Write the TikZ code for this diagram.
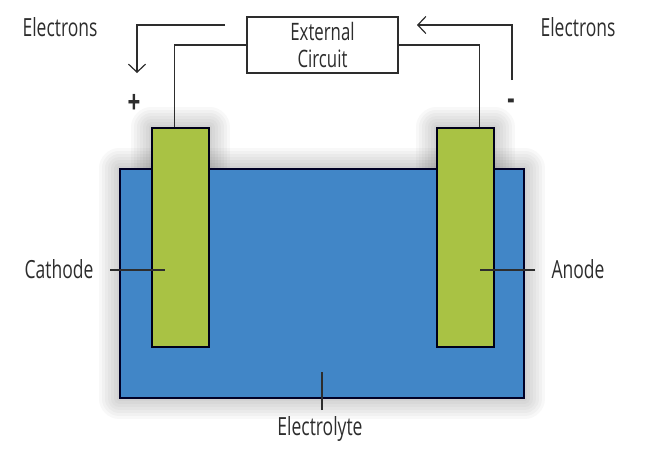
\documentclass[tikz,border=0pt]{standalone}
\usepackage{fontspec}
\setmainfont[FakeStretch=0.7]{Open Sans}
\usetikzlibrary{positioning,backgrounds,arrows.meta}

\definecolor{cellblue}{RGB}{65,134,199}
\definecolor{plategreen}{RGB}{169,194,68}
\definecolor{inkgray}{RGB}{45,45,45}

\tikzset{
	plate/.style={draw=black!90!blue, fill=plategreen, line width=1.3pt, minimum width=57pt, minimum height=219pt, inner sep=0pt},
	wire/.style={draw=inkgray, line width=1.2pt},
	flow/.style={wire, -{Straight Barb[length=8pt,width=17pt,line width=1.2pt]}},
	lbl/.style={text=inkgray, font=\fontsize{25}{28}\selectfont, inner sep=0pt},
	sign/.style={text=inkgray, font=\fontsize{32}{34}\selectfont\bfseries, inner sep=0pt},
	blur/.style={draw=black, opacity=0.028, line join=round}
}

\begin{document}
\begin{tikzpicture}[x=1pt,y=-1pt]
		\useasboundingbox (0,0) rectangle (646,458);

		\node[draw=black!85!blue, fill=cellblue, line width=1.3pt, minimum width=404pt, minimum height=229pt, inner sep=0pt] (electrolyte) at (322,283.5) {};
		\node[plate] (cathode) at (180.5,237.5) {};
		\node[plate] (anode) at (465.5,237.5) {};

		\node[draw=inkgray, fill=white, line width=1.2pt, minimum width=151pt, minimum height=56pt, align=center, lbl, font=\fontsize{24}{27}\selectfont] (circuit) at (322.5,45) {External\\Circuit};

		% soft shadows
		\begin{scope}[on background layer, xshift=3pt, yshift=-7pt]
			\foreach \w in {4,10,...,40} {
				\draw[blur, line width=\w pt] (electrolyte.north west) rectangle (electrolyte.south east);
				\draw[blur, line width=\w pt] (cathode.north west) rectangle (cathode.south east);
				\draw[blur, line width=\w pt] (anode.north west) rectangle (anode.south east);
			}
		\end{scope}

		% wires to the plates
		\draw[wire] (circuit.west) -| ([xshift=-6pt]cathode.north);
		\draw[wire] (circuit.east) -| ([xshift=14pt]anode.north);

		% electron flow
		\coordinate (lefttail) at (225,25);
		\coordinate (lefthead) at (137,73);
		\coordinate (righttail) at (512,80);
		\coordinate (righthead) at (417,25);
		\draw[flow] (lefttail) -| (lefthead);
		\draw[flow] (righttail) |- (righthead);

		\node[lbl] (eleft) at (60,27) {Electrons};
		\node[lbl] (eright) at (578,27) {Electrons};

		\node[sign] (plus) at (134,104) {+};
		\node[sign] (minus) at (511,104) {-};

		% labels
		\node[lbl] (cathodelbl) at (59,269) {Cathode};
		\node[lbl] (anodelbl) at (578,269) {Anode};
		\node[lbl] (electrolytelbl) at (320,429) {Electrolyte};

		\coordinate (cathodepin) at (165,270);
		\coordinate (anodepin) at (480,270);
		\coordinate (electrolytepin) at (322,372);
		\draw[inkgray, line width=1.1pt] (110,270) -- (cathodepin);
		\draw[inkgray, line width=1.1pt] (535,270) -- (anodepin);
		\draw[inkgray, line width=1.1pt] (322,410) -- (electrolytepin);
\end{tikzpicture}
\end{document}
